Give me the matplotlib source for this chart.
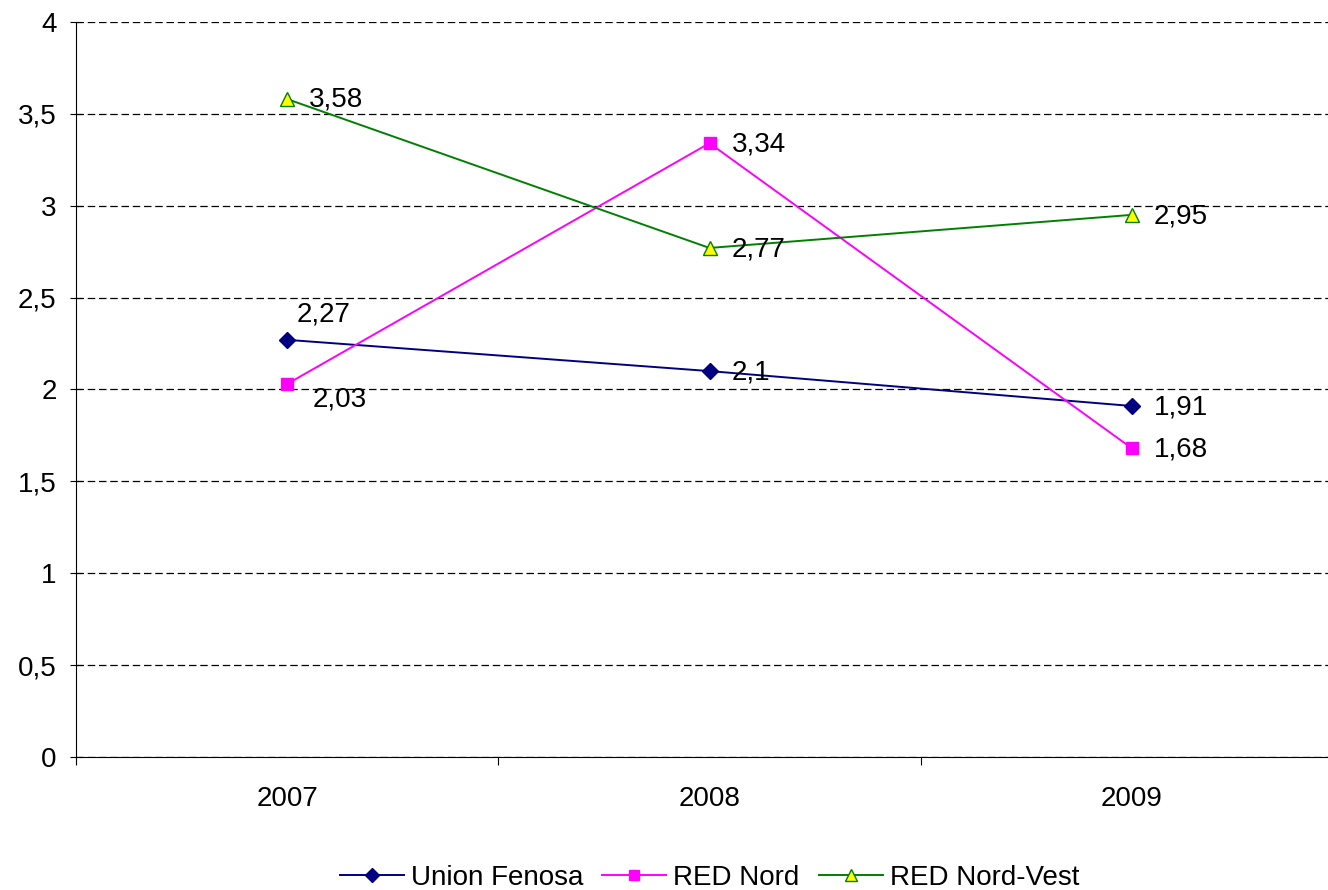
import matplotlib.pyplot as plt
from matplotlib.ticker import FuncFormatter

plt.rcParams['font.family'] = ['Liberation Sans', 'DejaVu Sans']

years = ['2007', '2008', '2009']
union_fenosa = [2.27, 2.10, 1.91]
red_nord = [2.03, 3.34, 1.68]
red_nord_vest = [3.58, 2.77, 2.95]

fig = plt.figure(figsize=(13.28, 8.90), dpi=100)
ax = fig.add_axes([76 / 1328, 0.1494, 1267 / 1328, 0.826])

x = [i + 0.5 for i in range(len(years))]

ax.plot(x, union_fenosa, color='#000080', marker='D', markersize=8,
        markerfacecolor='#000080', markeredgecolor='#000080', lw=1.4,
        label='Union Fenosa', zorder=3)
ax.plot(x, red_nord, color='#FF00FF', marker='s', markersize=9,
        markerfacecolor='#FF00FF', markeredgecolor='#FF00FF', lw=1.4,
        label='RED Nord', zorder=3)
ax.plot(x, red_nord_vest, color='#008000', marker='^', markersize=10,
        markerfacecolor='#FFFF00', markeredgecolor='#008000', lw=1.4,
        label='RED Nord-Vest', zorder=3)

def fmt(v):
    s = ('%.2f' % v).rstrip('0').rstrip('.')
    return s.replace('.', ',')

fs = 20
# data labels
offsets_uf = [(7, 18), (16, -1), (16, -1)]
offsets_rn = [(18, -11), (16, -1), (16, -1)]
offsets_rnv = [(16, 0), (16, -1), (16, -1)]
for xi, v, off in zip(x, union_fenosa, offsets_uf):
    ax.annotate(fmt(v), (xi, v), xytext=off, textcoords='offset points',
                fontsize=fs, va='center', ha='left')
for xi, v, off in zip(x, red_nord, offsets_rn):
    ax.annotate(fmt(v), (xi, v), xytext=off, textcoords='offset points',
                fontsize=fs, va='center', ha='left')
for xi, v, off in zip(x, red_nord_vest, offsets_rnv):
    ax.annotate(fmt(v), (xi, v), xytext=off, textcoords='offset points',
                fontsize=fs, va='center', ha='left')

ax.set_xlim(0, 3)
ax.set_ylim(0, 4)
ax.set_yticks([i * 0.5 for i in range(9)])
ax.yaxis.set_major_formatter(FuncFormatter(lambda v, p: fmt(v)))
ax.set_xticks([0, 1, 2, 3])
ax.set_xticklabels([])
ax.set_xticks(x, minor=True)
ax.set_xticklabels(years, minor=True)
ax.tick_params(axis='x', which='minor', length=0, pad=21, labelsize=fs)
ax.tick_params(axis='x', which='major', length=6, direction='out')
ax.tick_params(axis='y', length=8, direction='inout', labelsize=fs, pad=10)

ax.grid(axis='y', linestyle=(0, (6, 3)), color='black', lw=0.9)
for s in ['top', 'right']:
    ax.spines[s].set_visible(False)
ax.spines['left'].set_color('black')
ax.spines['bottom'].set_color('black')

ax.legend(loc='center', bbox_to_anchor=(0.5, -0.164), ncol=3,
          frameon=False, fontsize=fs, handlelength=2.3, columnspacing=0.7,
          handletextpad=0.25, markerscale=0.85, borderpad=0.1)

fig.savefig('out.png', dpi=100)
